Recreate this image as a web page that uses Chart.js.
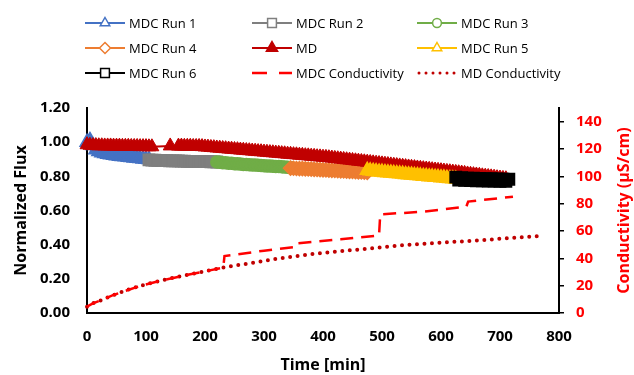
<!DOCTYPE html>
<html>
<head>
<meta charset="utf-8">
<script src="https://cdn.jsdelivr.net/npm/chart.js@4.4.0/dist/chart.umd.min.js"></script>
<style>
  html, body { margin: 0; padding: 0; background: #fff; }
  #wrap { width: 634px; height: 375px; position: relative; }
</style>
</head>
<body>
<div id="wrap"><canvas id="fluxChart"></canvas></div>
<script>
// flux runs, time in min
const run1Time = [0,5,10,15,20,25,30,35,40,45,50,55,60,65,70,75,80,85,90,95,100,105];
const run1Flux = [1.00,1.01,0.98,0.955,0.945,0.938,0.933,0.929,0.926,0.923,0.92,0.918,0.916,0.914,0.912,0.91,0.908,0.906,0.904,0.902,0.90,0.899];

const run2Time = [105,110,115,120,125,130,135,140,145,150,155,160,165,170,175,180,185,190,195,200,205,210,215,220];
const run2Flux = [0.896,0.895,0.894,0.893,0.893,0.892,0.892,0.891,0.891,0.890,0.890,0.889,0.889,0.888,0.888,0.888,0.887,0.887,0.886,0.886,0.886,0.885,0.885,0.884];

const run3Time = [220,225,230,235,240,245,250,255,260,265,270,275,280,285,290,295,300,305,310,315,320,325,330,335,340,345];
const run3Flux = [0.884,0.882,0.880,0.879,0.877,0.876,0.874,0.873,0.872,0.870,0.869,0.868,0.867,0.866,0.865,0.864,0.862,0.861,0.860,0.859,0.858,0.857,0.856,0.854,0.853,0.852];

const run4Time = [345,350,355,360,365,370,375,380,385,390,395,400,405,410,415,420,425,430,435,440,445,450,455,460,465,470,475];
const run4Flux = [0.848,0.847,0.846,0.845,0.845,0.844,0.843,0.842,0.841,0.840,0.839,0.838,0.837,0.836,0.835,0.834,0.833,0.832,0.831,0.830,0.829,0.828,0.827,0.826,0.825,0.824,0.823];

const run5Time = [475,480,485,490,495,500,505,510,515,520,525,530,535,540,545,550,555,560,565,570,575,580,585,590,595,600,605,610,615,620,625];
const run5Flux = [0.835,0.832,0.830,0.828,0.826,0.825,0.823,0.821,0.820,0.818,0.816,0.815,0.813,0.811,0.810,0.808,0.806,0.805,0.803,0.801,0.800,0.798,0.797,0.795,0.794,0.792,0.791,0.789,0.788,0.786,0.785];

const run6Time = [625,630,635,640,645,650,655,660,665,670,675,680,685,690,695,700,705,710,715];
const run6Flux = [0.795,0.778,0.792,0.776,0.790,0.775,0.789,0.774,0.788,0.773,0.787,0.772,0.786,0.772,0.785,0.771,0.784,0.771,0.783];

const mdTime = [0,5,10,15,20,25,30,35,40,45,50,55,60,65,70,75,80,85,90,95,100,105,110,
  141,
  155,160,165,170,175,180,185,190,
  195,200,205,210,215,220,225,230,235,240,245,250,255,260,265,270,275,280,285,290,295,300,305,310,315,320,325,330,335,340,345,350,355,360,365,370,375,380,385,390,395,400,405,
  410,415,420,425,430,435,440,445,450,455,460,465,470,475,480,485,490,495,500,505,510,515,520,525,530,535,540,545,550,555,560,565,570,575,580,585,590,595,600,605,610,615,620,625,
  630,635,640,645,650,655,660,665,670,675,680,685,690,695,700,705,710];
const mdFlux = [0.985,0.982,0.980,0.980,0.979,0.979,0.978,0.978,0.978,0.977,0.977,0.977,0.976,0.976,0.976,0.975,0.975,0.975,0.974,0.974,0.974,0.973,0.973,
  0.978,
  0.977,0.977,0.976,0.976,0.976,0.975,0.975,0.975,
  0.974,0.972,0.971,0.969,0.968,0.966,0.965,0.963,0.962,0.960,0.959,0.957,0.956,0.954,0.953,0.951,0.950,0.948,0.947,0.945,
  0.944,0.942,0.941,0.939,0.938,0.936,0.935,0.933,0.932,0.930,0.929,0.927,0.926,0.924,0.923,0.921,0.920,0.918,0.917,0.915,0.914,0.912,0.911,
  0.909,0.907,0.905,0.903,0.901,0.899,0.897,0.895,0.893,0.891,0.889,0.887,0.885,0.883,0.881,0.879,0.877,0.875,0.873,0.871,
  0.869,0.867,0.865,0.863,0.861,0.859,0.857,0.855,0.853,0.851,0.849,0.847,0.845,0.843,0.841,0.839,0.837,0.835,0.833,0.831,0.829,0.827,0.825,0.823,
  0.821,0.819,0.817,0.814,0.812,0.810,0.808,0.806,0.803,0.801,0.799,0.797,0.795,0.792,0.790,0.788,0.786];

// conductivity (uS/cm)
const mdcCondTime = [0,10,22,45,90,129,175,231,233,300,355,357,430,495,497,570,643,646,722];
const mdcCond = [4.6,7.0,9.0,13.2,19.8,24.1,28.3,33.2,41.7,45.6,48.5,51.0,53.9,56.8,72.2,74.1,77.8,81.5,85.1];

const mdCondTime = [0,10,22,45,90,129,175,231,282,327,384,440,488,542,600,655,710,768];
const mdCond = [4.6,7.0,9.0,13.2,19.8,24.1,28.3,33.2,36.8,40.0,43.2,45.6,47.6,49.8,51.5,52.9,54.6,56.3];

const condTicks = [0, 20, 40, 60, 80, 100, 120, 140];

const legendOrder = ['MDC Run 1', 'MDC Run 2', 'MDC Run 3', 'MDC Run 4', 'MD', 'MDC Run 5', 'MDC Run 6', 'MDC Conductivity', 'MD Conductivity'];

function pts(t, v) {
    return t.map((x, i) => ({ x: x, y: v[i] }));
}

function runSet(label, t, v, color, style, r) {
    return {
        label: label,
        data: pts(t, v),
        yAxisID: 'y',
        borderColor: color,
        borderWidth: 2,
        pointStyle: style,
        pointRadius: r,
        pointBorderColor: color,
        pointBackgroundColor: color,
        pointBorderWidth: 1.5,
        clip: false
    };
}

// first dataset is drawn on top
const datasets = [
    {
        label: 'MDC Conductivity',
        data: pts(mdcCondTime, mdcCond),
        yAxisID: 'y1',
        borderColor: '#FF0000',
        borderWidth: 2.5,
        borderDash: [13, 8],
        pointRadius: 0,
        clip: false
    },
    {
        label: 'MD Conductivity',
        data: pts(mdCondTime, mdCond),
        yAxisID: 'y1',
        borderColor: '#C00000',
        borderWidth: 4,
        borderDash: [0, 7.5],
        borderCapStyle: 'round',
        cubicInterpolationMode: 'monotone',
        pointRadius: 0,
        clip: false
    },
    runSet('MDC Run 6', run6Time, run6Flux, '#000000', 'rect', 8),
    runSet('MDC Run 5', run5Time, run5Flux, '#FFC000', 'triangle', 8),
    {
        label: 'MD',
        data: pts(mdTime, mdFlux),
        yAxisID: 'y',
        borderColor: '#C00000',
        borderWidth: 2,
        pointStyle: 'triangle',
        pointRadius: 8,
        pointBorderColor: '#C00000',
        pointBackgroundColor: '#C00000',
        pointBorderWidth: 1,
        clip: false
    },
    runSet('MDC Run 4', run4Time, run4Flux, '#ED7D31', 'rectRot', 7),
    runSet('MDC Run 3', run3Time, run3Flux, '#70AD47', 'circle', 6),
    runSet('MDC Run 2', run2Time, run2Flux, '#7F7F7F', 'rect', 8),
    runSet('MDC Run 1', run1Time, run1Flux, '#4472C4', 'triangle', 8)
];

function drawMarker(ctx, style, x, y, r) {
    ctx.beginPath();
    if (style === 'triangle') {
        ctx.moveTo(x, y - r);
        ctx.lineTo(x + r * 0.866, y + r / 2);
        ctx.lineTo(x - r * 0.866, y + r / 2);
        ctx.closePath();
    } else if (style === 'rect') {
        const s = r * 0.8;
        ctx.rect(x - s, y - s, 2 * s, 2 * s);
    } else if (style === 'rectRot') {
        ctx.moveTo(x, y - r);
        ctx.lineTo(x + r, y);
        ctx.lineTo(x, y + r);
        ctx.lineTo(x - r, y);
        ctx.closePath();
    } else {
        ctx.arc(x, y, r * 0.8, 0, Math.PI * 2);
    }
    ctx.fill();
    ctx.stroke();
}

// excel style legend in a 3 column grid + right axis title
const excelBits = {
    id: 'excelBits',
    afterDraw(chart) {
        const ctx = chart.ctx;
        const colX = [85, 252, 417];
        const rowY = [23, 48, 73];
        ctx.save();
        ctx.font = '13px "Open Sans"';
        ctx.textBaseline = 'middle';
        legendOrder.forEach((name, i) => {
            const ds = chart.data.datasets.find(d => d.label === name);
            const x = colX[i % 3];
            const y = rowY[Math.floor(i / 3)];
            ctx.strokeStyle = ds.borderColor;
            ctx.lineWidth = Math.min(ds.borderWidth, 2.5);
            ctx.lineCap = ds.borderCapStyle || 'butt';
            if (name === 'MDC Conductivity') ctx.setLineDash([15, 12]);
            else if (name === 'MD Conductivity') ctx.setLineDash([0, 7]);
            else ctx.setLineDash([]);
            if (name === 'MD Conductivity') ctx.lineWidth = 3;
            ctx.beginPath();
            ctx.moveTo(x + (name === 'MD Conductivity' ? 2 : 0), y);
            ctx.lineTo(x + 40, y);
            ctx.stroke();
            ctx.setLineDash([]);
            if (ds.pointRadius) {
                ctx.lineWidth = 1.5;
                ctx.fillStyle = name === 'MD' ? '#C00000' : '#fff';
                drawMarker(ctx, ds.pointStyle, x + 20, y, name === 'MD' ? 6.5 : 5.5);
            }
            ctx.fillStyle = '#000';
            ctx.fillText(name, x + 44, y + 1);
        });
        const area = chart.chartArea;
        ctx.translate(624, (area.top + area.bottom) / 2);
        ctx.rotate(-Math.PI / 2);
        ctx.font = 'bold 16px "Open Sans"';
        ctx.fillStyle = '#FF0000';
        ctx.textAlign = 'center';
        ctx.fillText('Conductivity (\u00B5S/cm)', 0, 0);
        ctx.restore();
    }
};

const tickFont = { family: 'Open Sans', size: 15, weight: 'bold' };
const titleFont = { family: 'Open Sans', size: 16, weight: 'bold' };

new Chart(document.getElementById('fluxChart'), {
    type: 'line',
    data: { datasets: datasets },
    plugins: [excelBits],
    options: {
        responsive: true,
        maintainAspectRatio: false,
        animation: false,
        layout: { padding: { top: 108 } },
        plugins: {
            legend: { display: false },
            tooltip: { enabled: false }
        },
        scales: {
            x: {
                type: 'linear',
                position: 'bottom',
                min: 0,
                max: 800,
                ticks: { stepSize: 100, font: tickFont, color: '#000', padding: 15 },
                grid: { display: false, drawTicks: false },
                border: { display: true, color: '#000', width: 2 },
                title: { display: true, text: 'Time [min]', font: titleFont, color: '#000', padding: { top: 0, bottom: 0 } },
                afterFit: (s) => { s.height = 62; }
            },
            y: {
                type: 'linear',
                position: 'left',
                min: 0,
                max: 1.2,
                ticks: { stepSize: 0.2, font: tickFont, color: '#000', padding: 17, callback: v => v.toFixed(2) },
                grid: { display: false, drawTicks: false },
                border: { display: true, color: '#000', width: 2 },
                title: { display: true, text: 'Normalized Flux', font: titleFont, color: '#000', padding: { top: 12, bottom: 0 } },
                afterFit: (s) => { s.width = 87; }
            },
            y1: {
                type: 'linear',
                position: 'right',
                min: 0,
                max: 150,
                ticks: { font: tickFont, color: '#FF0000', padding: 12 },
                afterBuildTicks: (s) => { s.ticks = condTicks.map(v => ({ value: v })); },
                grid: { display: true, drawOnChartArea: false, drawTicks: true, tickLength: 5, color: '#000', lineWidth: 1.5 },
                border: { display: true, color: '#000', width: 2 },
                afterFit: (s) => { s.width = 75; }
            }
        }
    }
});
</script>
</body>
</html>
